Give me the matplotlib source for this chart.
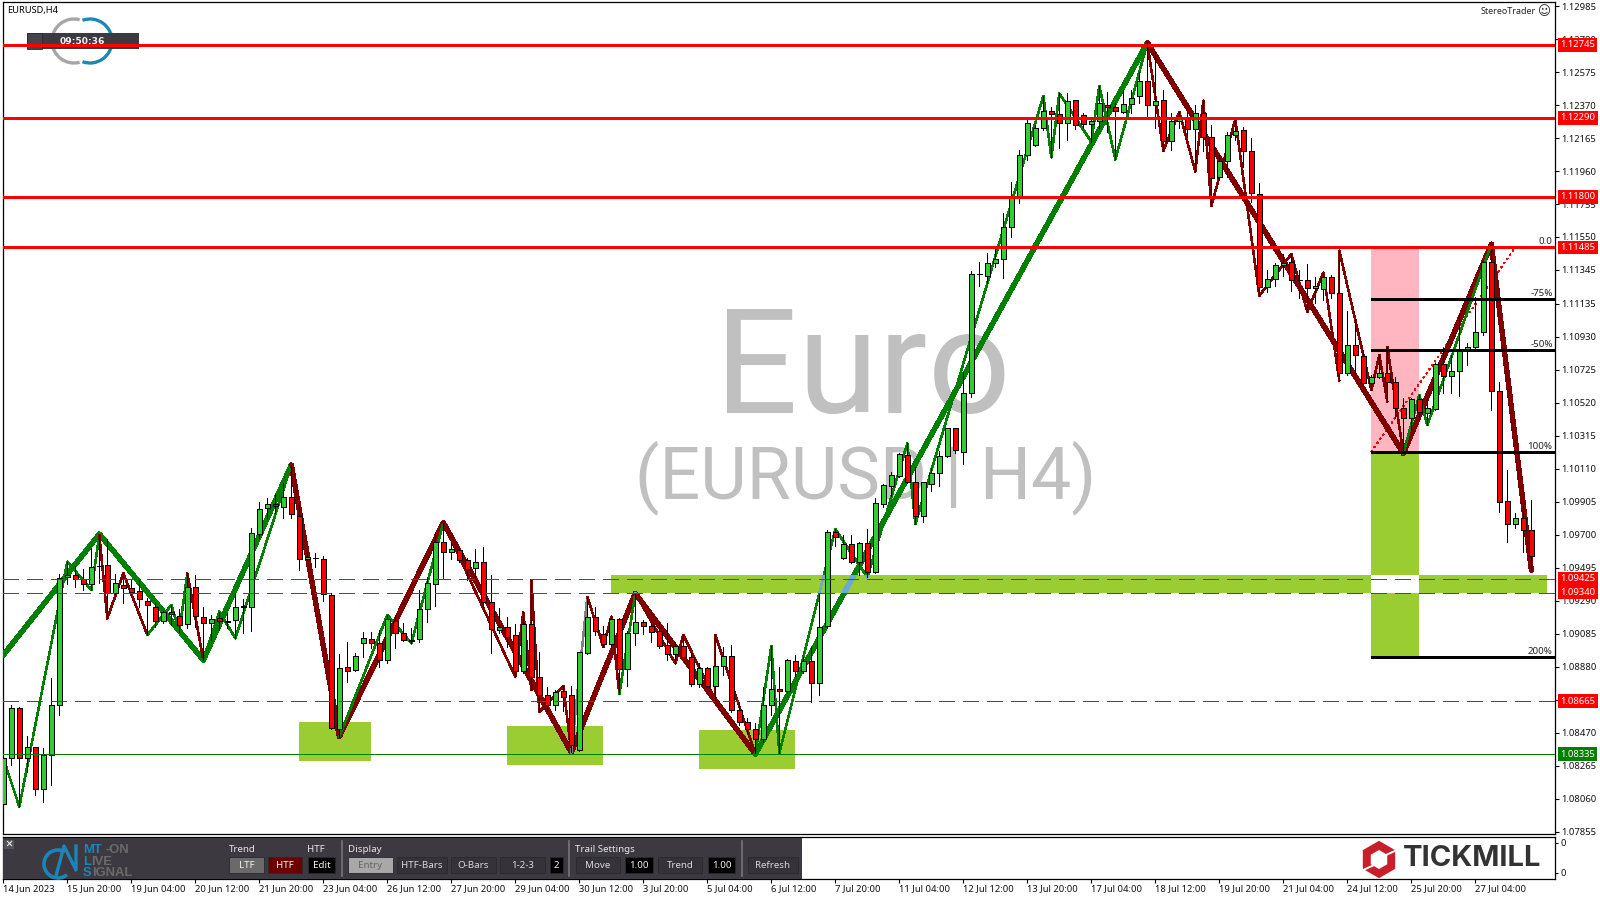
import matplotlib
matplotlib.use("Agg")
import matplotlib.pyplot as plt
from matplotlib.patches import Rectangle, Arc, Polygon
import numpy as np

W, H = 1600, 900
plt.rcParams['font.family'] = ['Noto Sans', 'DejaVu Sans']

# ------------------------------------------------------------------ data
opens = [1.08026,1.08310,1.08621,1.08310,1.08379,1.08117,1.08329,1.08640,1.09435,1.09452,
 1.09423,1.09392,1.09505,1.09510,1.09336,1.09390,1.09371,1.09348,1.09290,1.09253,
 1.09162,1.09218,1.09197,1.09143,1.09377,1.09191,1.09149,1.09180,1.09162,1.09170,
 1.09253,1.09249,1.09702,1.09864,1.09889,1.09874,1.09932,1.09818,1.09547,1.09557,
 1.09547,1.09327,1.08490,1.08876,1.08861,1.09029,1.09054,1.09025,1.08919,1.09166,
 1.09087,1.09043,1.09049,1.09235,1.09391,1.09656,1.09590,1.09606,1.09544,1.09490,
 1.09528,1.09279,1.09109,1.09124,1.09074,1.08854,1.09142,1.08813,1.08705,1.08639,
 1.08726,1.08701,1.08361,1.08966,1.09186,1.09084,1.09018,1.09173,1.08863,1.09086,
 1.09155,1.09130,1.09099,1.09012,1.08956,1.09006,1.08941,1.08769,1.08869,1.08759,
 1.08881,1.08943,1.08608,1.08533,1.08490,1.08432,1.08639,1.08738,1.08726,1.08912,
 1.08850,1.08912,1.08776,1.09132,1.09714,1.09557,1.09640,1.09532,1.09646,1.09470,
 1.09893,1.10004,1.10067,1.10195,1.10025,1.09818,1.10017,1.10081,1.10187,1.10361,
 1.10216,1.10583,1.11318,1.11309,1.11386,1.11411,1.11610,1.11800,1.12057,1.12119,
 1.12225,1.12330,1.12312,1.12256,1.12399,1.12306,1.12250,1.12268,1.12372,1.12355,
 1.12324,1.12374,1.12424,1.12517,1.12368,1.12399,1.12146,1.12268,1.12293,1.12219,
 1.12318,1.12169,1.11920,1.12020,1.12181,1.12212,1.12082,1.11819,1.11237,1.11286,
 1.11373,1.11396,1.11282,1.11280,1.11230,1.11224,1.11299,1.11199,1.10706,1.10876,
 1.10808,1.10640,1.10677,1.10702,1.10646,1.10485,1.10423,1.10541,1.10454,1.10478,
 1.10758,1.10684,1.10715,1.10851,1.10864,1.10957,1.11392,1.10590,1.09907,1.09764,
 1.09801,1.09726]
highs = [1.08331,1.08642,1.08627,1.08449,1.08383,1.08372,1.08807,1.09454,1.09532,1.09505,
 1.09489,1.09615,1.09698,1.09671,1.09456,1.09460,1.09418,1.09418,1.09305,1.09284,
 1.09228,1.09263,1.09236,1.09460,1.09450,1.09249,1.09201,1.09222,1.09211,1.09336,
 1.09298,1.09740,1.09905,1.09926,1.09953,1.10021,1.10133,1.09885,1.09595,1.09584,
 1.09568,1.09336,1.08959,1.09031,1.08967,1.09097,1.09097,1.09108,1.09201,1.09201,
 1.09153,1.09118,1.09356,1.09438,1.09718,1.09774,1.09646,1.09615,1.09552,1.09608,
 1.09621,1.09449,1.09242,1.09190,1.09144,1.09217,1.09418,1.08968,1.08755,1.08734,
 1.08759,1.08759,1.08972,1.09314,1.09252,1.09132,1.09190,1.09180,1.09103,1.09335,
 1.09169,1.09153,1.09153,1.09149,1.09035,1.09076,1.08962,1.08900,1.08879,1.09076,
 1.09003,1.09014,1.08662,1.08558,1.08531,1.08751,1.09008,1.08875,1.08927,1.08952,
 1.08937,1.09003,1.09339,1.09729,1.09733,1.09698,1.09698,1.09652,1.09733,1.09926,
 1.10015,1.10091,1.10205,1.10267,1.10123,1.10029,1.10112,1.10222,1.10365,1.10365,
 1.10713,1.11341,1.11396,1.11449,1.11482,1.11697,1.11889,1.12090,1.12287,1.12246,
 1.12426,1.12355,1.12442,1.12442,1.12401,1.12322,1.12277,1.12488,1.12453,1.12384,
 1.12463,1.12463,1.12577,1.12757,1.12701,1.12463,1.12318,1.12328,1.12318,1.12370,
 1.12397,1.12246,1.12059,1.12200,1.12281,1.12231,1.12163,1.11883,1.11344,1.11386,
 1.11444,1.11444,1.11344,1.11382,1.11299,1.11328,1.11313,1.11465,1.11090,1.11034,
 1.10847,1.10692,1.10816,1.10868,1.10681,1.10547,1.10547,1.10568,1.10547,1.10764,
 1.10858,1.10816,1.11075,1.10889,1.11179,1.11396,1.11506,1.10646,1.10101,1.09836,
 1.09884,1.09915]
lows = [1.07968,1.08269,1.08010,1.08227,1.08082,1.08041,1.08144,1.08579,1.09394,1.09377,
 1.09356,1.09356,1.09398,1.09180,1.09325,1.09278,1.09325,1.09253,1.09077,1.09128,
 1.09153,1.09139,1.09097,1.09118,1.09128,1.08921,1.09046,1.09108,1.09118,1.09056,
 1.09087,1.09104,1.09677,1.09802,1.09833,1.09802,1.09802,1.09481,1.09543,1.09501,
 1.09290,1.08490,1.08445,1.08787,1.08855,1.08942,1.08994,1.08876,1.08905,1.08998,
 1.09041,1.09025,1.09035,1.09159,1.09256,1.09422,1.09548,1.09532,1.09418,1.09428,
 1.09252,1.08966,1.09086,1.09003,1.08817,1.08838,1.08734,1.08599,1.08606,1.08610,
 1.08606,1.08347,1.08357,1.08958,1.09076,1.09003,1.09010,1.08709,1.08761,1.09014,
 1.09082,1.09035,1.08993,1.08921,1.08900,1.08937,1.08761,1.08755,1.08751,1.08672,
 1.08827,1.08599,1.08517,1.08465,1.08336,1.08413,1.08579,1.08340,1.08718,1.08821,
 1.08838,1.08662,1.08703,1.09118,1.09629,1.09549,1.09526,1.09449,1.09435,1.09464,
 1.09874,1.09940,1.10060,1.10019,1.09766,1.09781,1.09971,1.10000,1.10185,1.10210,
 1.10137,1.10558,1.11245,1.11264,1.11365,1.11297,1.11552,1.11763,1.12028,1.12115,
 1.12214,1.12045,1.12101,1.12152,1.12219,1.12225,1.12142,1.12225,1.12204,1.12032,
 1.12318,1.12318,1.12384,1.12281,1.12229,1.12086,1.12090,1.12225,1.12173,1.11956,
 1.12086,1.11744,1.11914,1.11924,1.12152,1.11982,1.11769,1.11185,1.11206,1.11245,
 1.11307,1.11216,1.11168,1.11085,1.11141,1.11158,1.11168,1.10657,1.10692,1.10681,
 1.10630,1.10599,1.10671,1.10526,1.10423,1.10205,1.10350,1.10433,1.10381,1.10474,
 1.10578,1.10578,1.10563,1.10754,1.10858,1.10940,1.10474,1.09842,1.09656,1.09739,
 1.09594,1.09480]
closes = [1.08310,1.08621,1.08310,1.08383,1.08117,1.08329,1.08640,1.09433,1.09452,1.09423,
 1.09392,1.09501,1.09503,1.09336,1.09402,1.09367,1.09346,1.09298,1.09261,1.09162,
 1.09218,1.09205,1.09137,1.09377,1.09195,1.09149,1.09178,1.09162,1.09160,1.09249,
 1.09255,1.09709,1.09862,1.09889,1.09876,1.09932,1.09827,1.09547,1.09559,1.09555,
 1.09331,1.08497,1.08874,1.08855,1.08944,1.09056,1.09025,1.08919,1.09174,1.09087,
 1.09046,1.09037,1.09235,1.09397,1.09652,1.09590,1.09608,1.09544,1.09484,1.09528,
 1.09283,1.09111,1.09124,1.09066,1.08854,1.09142,1.08813,1.08705,1.08641,1.08720,
 1.08693,1.08390,1.08968,1.09186,1.09099,1.09018,1.09173,1.08863,1.09086,1.09155,
 1.09130,1.09093,1.09006,1.08956,1.09006,1.08941,1.08769,1.08869,1.08759,1.08881,
 1.08943,1.08608,1.08533,1.08490,1.08432,1.08639,1.08738,1.08726,1.08919,1.08850,
 1.08912,1.08776,1.09128,1.09714,1.09683,1.09640,1.09532,1.09646,1.09470,1.09895,
 1.10007,1.10069,1.10199,1.10025,1.09818,1.10025,1.10081,1.10187,1.10361,1.10224,
 1.10578,1.11318,1.11320,1.11386,1.11411,1.11610,1.11800,1.12057,1.12256,1.12225,
 1.12330,1.12312,1.12256,1.12393,1.12244,1.12250,1.12268,1.12380,1.12355,1.12330,
 1.12374,1.12415,1.12517,1.12368,1.12393,1.12146,1.12268,1.12293,1.12219,1.12318,
 1.12171,1.11916,1.12020,1.12181,1.12210,1.12082,1.11825,1.11237,1.11286,1.11373,
 1.11390,1.11280,1.11280,1.11230,1.11247,1.11299,1.11199,1.10706,1.10876,1.10814,
 1.10640,1.10677,1.10702,1.10646,1.10485,1.10423,1.10541,1.10462,1.10485,1.10758,
 1.10684,1.10717,1.10847,1.10864,1.10957,1.11392,1.10590,1.09900,1.09764,1.09801,
 1.09726,1.09565]

thick_idx = [0,12,25,36,42,55,71,79,94,143,175,186,191]
thick_price = [1.08952,1.09704,1.08921,1.10133,1.08445,1.09774,1.08347,1.09335,1.08336,1.12757,1.10205,1.11506,1.09480]
thick_dir = ['up','up','up','dn','dn','dn','dn','dn','up','dn','dn','dn']

thin_idx = [0,2,8,11,12,13,15,18,21,22,23,25,27,29,36,42,48,51,55,64,65,66,66,67,70,71,73,75,76,77,79,84,85,89,89,94,96,97,104,108,113,114,130,131,132,136,137,139,143,145,147,149,150,151,154,157,161,163,165,167,167,171,172,173,173,175,177,178,186,191]
thin_price = [1.08310,1.08010,1.09532,1.09356,1.09698,1.09180,1.09460,1.09077,1.09263,1.09097,1.09460,1.08921,1.09222,1.09056,1.10133,1.08445,1.09201,1.09025,1.09774,1.08817,1.09217,1.08734,1.09418,1.08599,1.08759,1.08347,1.09314,1.09003,1.09190,1.08709,1.09335,1.08900,1.09076,1.08672,1.09076,1.08336,1.09008,1.08340,1.09733,1.09435,1.10267,1.09766,1.12426,1.12045,1.12442,1.12142,1.12488,1.12032,1.12757,1.12086,1.12328,1.11956,1.12397,1.11744,1.12281,1.11185,1.11444,1.11085,1.11328,1.10657,1.11465,1.10599,1.10816,1.10526,1.10868,1.10205,1.10568,1.10381,1.11506,1.09480]
thin_dir = ['up','up','up','up','dn','dn','dn','up','up','up','dn','up','up','up','dn','up','up','up','dn','dn','dn','dn','dn','dn','dn','mid','dn','dn','dn','up','dn','dn','dn','dn','dn','up','up','up','up','up','up','up','up','up','up','up','up','up','dn','dn','dn','dn','dn','dn','dn','dn','dn','dn','dn','dn','dn','dn','dn','dn','dn','up','up','up','dn']

solid_levels = [1.12745,1.12290,1.11800,1.11485]
dashed_levels = [1.09425,1.09340,1.08665]
support_level = 1.08335

support_zones = [(37,46,1.08293,1.08536),(63,75,1.08268,1.08511),(87,99,1.08243,1.08486)]
entry_band = (76,193,1.09340,1.09449)
fib_x = (171,177)
fib_0, fib_m75, fib_m50, fib_100, fib_200 = 1.11485,1.11165,1.10848,1.10216,1.08940

ytick_values = [1.12985,1.12780,1.12575,1.12370,1.12165,1.11960,1.11755,1.11550,1.11345,1.11135,1.10930,1.10725,1.10520,1.10315,1.10110,1.09905,1.09700,1.09495,1.09290,1.09085,1.08880,1.08675,1.08470,1.08265,1.08060,1.07855]
xtick_labels = ['14 Jun 2023','15 Jun 20:00','19 Jun 04:00','20 Jun 12:00','21 Jun 20:00','23 Jun 04:00','26 Jun 12:00','27 Jun 20:00','29 Jun 04:00','30 Jun 12:00','3 Jul 20:00','5 Jul 04:00','6 Jul 12:00','7 Jul 20:00','11 Jul 04:00','12 Jul 12:00','13 Jul 20:00','17 Jul 04:00','18 Jul 12:00','19 Jul 20:00','21 Jul 04:00','24 Jul 12:00','25 Jul 20:00','27 Jul 04:00']
red_tags = [1.12745,1.12290,1.11800,1.11485,1.09425,1.09340,1.08665]
green_tags = [1.08335]

# ------------------------------------------------------------------ layout
fig = plt.figure(figsize=(W/100, H/100), dpi=100, facecolor='white')

def axes_px(l, t, r, b, **kw):
    return fig.add_axes([l/W, 1-b/H, (r-l)/W, (b-t)/H], **kw)

L, R, T, B = 2.5, 1554.7, 2.0, 834.0
PX_PER_BAR, X0 = 8.0, 3.33
PX_PER_PRICE, Y_REF, P_REF = 16091.0, 44.7, 1.12745

bg = axes_px(0, 0, W, H, zorder=-1)
bg.set_xlim(0, W); bg.set_ylim(H, 0); bg.axis('off')

ax = axes_px(L, T, R, B, zorder=1)
ax.patch.set_alpha(0)
ax.set_xlim((L-X0)/PX_PER_BAR, (R-X0)/PX_PER_BAR)
ax.set_ylim(P_REF-(B-Y_REF)/PX_PER_PRICE, P_REF+(Y_REF-T)/PX_PER_PRICE)

# watermark, timer and logo
wm = ['Roboto', 'DejaVu Sans']
bg.text(863, 413, 'Euro', fontsize=105, color='#c0c0c0', ha='center', va='baseline', family=wm)
bg.text(866, 498, '(EURUSD | H4)', fontsize=51.6, color='#c0c0c0', ha='center', va='baseline', family=wm)
bg.add_patch(Arc((74, 41), 44, 44, theta1=75, theta2=285, color='#a6a6a6', lw=2.4))
bg.add_patch(Arc((90, 41), 44, 44, theta1=-110, theta2=110, color='#1d87b5', lw=2.4))
bg.add_patch(Rectangle((27, 33), 112, 16, fc='#3c3a40', ec='none'))
bg.add_patch(Rectangle((27, 33), 15, 16, fc='#46444a', ec='#2a2a2e', lw=0.6))
bg.add_patch(Rectangle((36, 44), 5, 3, fc='white', ec='none'))
bg.text(82, 41, '09:50:36', color='#f0f0f0', fontsize=6.6, weight='bold', ha='center', va='center', family=['DejaVu Sans'])
bg.text(7, 10, 'EURUSD,H4', fontsize=6.7, color='black', ha='left', va='center')
bg.text(1536, 12, 'StereoTrader', fontsize=6.4, color='#222222', ha='right', va='center')
bg.text(1544, 12, '\u263a', fontsize=9, color='#222222', ha='center', va='center', family=['DejaVu Sans'])

# zones
GREEN_ZONE, PINK_ZONE = '#9acd32', '#ffb6c1'
def zone(x0, x1, p0, p1, col):
    ax.add_patch(Rectangle((x0, p0), x1-x0, p1-p0, fc=col, ec='none', zorder=1, antialiased=False))
for x0, x1, p0, p1 in support_zones:
    zone(x0, x1, p0, p1, GREEN_ZONE)
zone(entry_band[0], fib_x[0], entry_band[2], entry_band[3], GREEN_ZONE)
zone(fib_x[1], entry_band[1], entry_band[2], entry_band[3], GREEN_ZONE)
zone(fib_x[0], fib_x[1], fib_100, fib_0, PINK_ZONE)
zone(fib_x[0], fib_x[1], entry_band[3], fib_100, GREEN_ZONE)
zone(fib_x[0], fib_x[1], fib_200, entry_band[2], GREEN_ZONE)

# zigzags
COLS = {'up': '#008000', 'dn': '#800000', 'mid': '#808080'}
def zig(idx, price, dirs, lw, z):
    for k, d in enumerate(dirs):
        xs, ys = idx[k:k+2], price[k:k+2]
        ax.plot(xs, ys, color=COLS[d], lw=lw, zorder=z, antialiased=False, solid_capstyle='round')
        if d == 'up' and xs[0] >= 76:
            ln, = ax.plot(xs, ys, color='#6aa9d2', lw=lw, zorder=z+0.1, antialiased=False)
            ln.set_clip_path(Rectangle((entry_band[0], entry_band[2]), fib_x[0]-entry_band[0],
                                       entry_band[3]-entry_band[2], transform=ax.transData))
zig(thick_idx, thick_price, thick_dir, 3.1, 3)
zig(thin_idx, thin_price, thin_dir, 1.1, 3.5)

# candles
idx = np.arange(len(opens))
o, h, l, c = map(np.array, (opens, highs, lows, closes))
ax.vlines(idx, l, h, color='black', lw=0.65, zorder=4, antialiased=False)
cols = np.where(c >= o, '#32cd32', '#ff0000')
ax.bar(idx, np.abs(c-o), bottom=np.minimum(o, c), width=0.55, color=cols, edgecolor='black', linewidth=0.65, zorder=4.2, antialiased=False)

# levels
for p in solid_levels:
    ax.axhline(p, color='#ff0000', lw=1.05, zorder=5, antialiased=False)
for p in dashed_levels:
    ax.axhline(p, color='#ff0000', lw=0.65, ls=(0, (17.7, 8.9)), zorder=5, antialiased=False)
ax.axhline(support_level, color='#008000', lw=0.65, zorder=5, antialiased=False)

# fibonacci
for p in (fib_m75, fib_m50, fib_100, fib_200):
    ax.plot([fib_x[0], ax.get_xlim()[1]], [p, p], color='black', lw=1.05, zorder=5, antialiased=False, solid_capstyle='butt')
ax.plot([fib_x[0], 189], [fib_100, fib_0], color='#ff0000', lw=0.6, ls=(0, (2, 4)), zorder=2.9, antialiased=False)
for p, t in ((fib_0, '0.0'), (fib_m75, '-75%'), (fib_m50, '-50%'), (fib_100, '100%'), (fib_200, '200%')):
    ax.annotate(t, xy=(1, p), xycoords=('axes fraction', 'data'), xytext=(-1.5, 0.8), textcoords='offset points',
                ha='right', va='bottom', fontsize=7, color='#222222', zorder=6)

# axes styling
for s in ax.spines.values():
    s.set_linewidth(0.9); s.set_color('black')
ax.set_xticks([])
ax.yaxis.tick_right()
ax.set_yticks(ytick_values)
ax.set_yticklabels([f'{v:.5f}' for v in ytick_values], fontsize=6.8, color='#111111')
ax.tick_params(axis='y', length=3.2, width=0.8, pad=1.8)

# price tags
for plist, col in ((red_tags, '#ff0000'), (green_tags, '#008000')):
    for p in plist:
        ax.annotate(f'{p:.5f}', xy=(1, p), xycoords=('axes fraction', 'data'), xytext=(4.0, 0), textcoords='offset points',
                    ha='left', va='center', fontsize=6.8, color='white', zorder=7, annotation_clip=False,
                    bbox=dict(boxstyle='square,pad=0.25', fc=col, ec='none'))

# lower panel with time axis
pan = axes_px(L, 837, R, 879, zorder=1)
pan.set_xlim(ax.get_xlim()); pan.set_ylim(0, 1)
tick_idx = np.arange(0, 8*len(xtick_labels), 8)
pan.set_xticks(tick_idx)
pan.set_xticklabels(xtick_labels, fontsize=6.8, color='#111111', ha='left')
pan.tick_params(axis='x', length=2.8, width=0.8, pad=0.6)
pan.yaxis.tick_right()
pan.set_yticks([0.15, 0.86]); pan.set_yticklabels(['0', '0'], fontsize=6.8, color='#111111')
pan.tick_params(axis='y', length=2.5, width=0.8, pad=1.5)
for s in pan.spines.values():
    s.set_linewidth(0.9); s.set_color('black')

# top overlay: toolbar + brand
top = axes_px(0, 0, W, H, zorder=5)
top.set_xlim(0, W); top.set_ylim(H, 0); top.axis('off'); top.patch.set_alpha(0)
top.add_patch(Rectangle((3, 837.5), 799, 41, fc='#3c3a40', ec='none'))
top.add_patch(Rectangle((4, 840), 10, 9, fc='#555358', ec='none'))
top.text(9, 844.3, '\u00d7', color='white', fontsize=9, weight='bold', ha='center', va='center')
BLUE, GREY = '#1b85b8', '#6a6a6a'
top.add_patch(Arc((58, 864), 28, 28, theta1=50, theta2=300, color=BLUE, lw=2.6))
top.plot([56, 64, 76, 76], [876, 846, 870, 846], color=BLUE, lw=2.4)
mono = ['Liberation Sans', 'DejaVu Sans']
for ty, a, b, dx in ((850, 'MT', '-ON', 22), (862, 'L', 'IVE', 8), (873.5, 'S', 'IGNAL', 9)):
    top.text(83, ty, a, color=BLUE, fontsize=9.4, weight='bold', ha='left', va='center', family=mono)
    top.text(83+dx, ty, b, color=GREY, fontsize=9.4, weight='bold', ha='left', va='center', family=mono)
for x, s in ((229, 'Trend'), (307, 'HTF'), (348, 'Display'), (575, 'Trail Settings')):
    top.text(x, 849, s, color='#e6e6e6', fontsize=7, ha='left', va='center')
buttons = [(229,264,'LTF','#6a6a6a','#f0f0f0'),(268,302,'HTF','#6b0000','#f0f0f0'),(308,335,'Edit','#000000','#f0f0f0'),
           (348,393,'Entry','#a8a8a8','#666666'),(397,447,'HTF-Bars','#35333a','#d8d8d8'),(451,496,'O-Bars','#35333a','#d8d8d8'),
           (500,545,'1-2-3','#35333a','#d8d8d8'),(550,563,'2','#000000','#f0f0f0'),(576,620,'Move','#35333a','#d8d8d8'),
           (625,653,'1.00','#000000','#f0f0f0'),(658,702,'Trend','#35333a','#d8d8d8'),(708,735,'1.00','#000000','#f0f0f0'),
           (748,798,'Refresh','#35333a','#d8d8d8')]
for x0, x1, s, fc, tc in buttons:
    top.add_patch(Rectangle((x0, 857), x1-x0, 16, fc=fc, ec='#2a282e', lw=0.6))
    top.text((x0+x1)/2, 865, s, color=tc, fontsize=7, ha='center', va='center')
for x in (342, 569, 742):
    top.plot([x, x], [841, 876], color='#77757c', lw=1.2)

# brand logo
cx, cy, RR, rr = 1379, 859.5, 18.7, 9.5
ang = np.deg2rad(np.arange(90, 450, 60))
top.add_patch(Polygon(np.c_[cx+RR*np.cos(ang), cy+RR*np.sin(ang)], fc='#c8202a', ec='none'))
top.add_patch(Polygon(np.c_[cx+rr*np.cos(ang), cy+rr*np.sin(ang)], fc='white', ec='none'))
top.plot([cx+6, cx+19], [cy-4, cy-10], color='white', lw=1.4)
top.plot([cx-6, cx-19], [cy+6, cy+12], color='white', lw=1.4)
top.text(1403, 859, 'TICKMILL', color='#333333', fontsize=21, weight='bold', ha='left', va='center', family=['Inter', 'DejaVu Sans'])

fig.savefig('out.png', dpi=100, facecolor='white')
